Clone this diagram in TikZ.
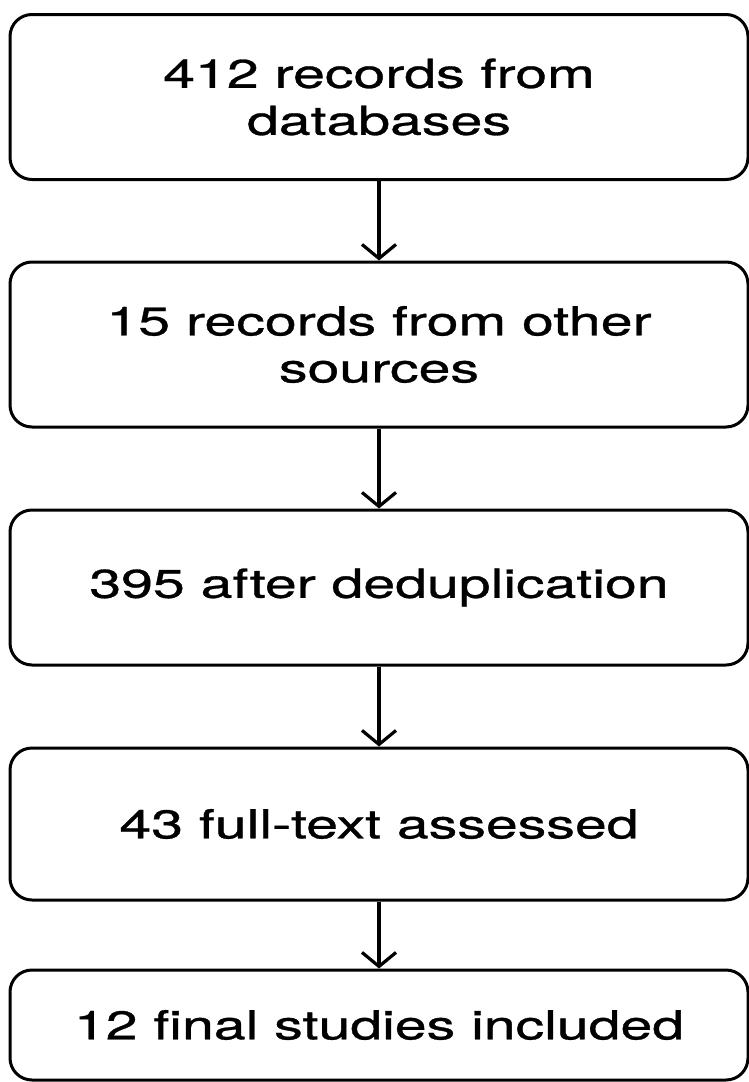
\documentclass[tikz,border=0pt]{standalone}
\usepackage{fontspec}
\setmainfont{TeX Gyre Heros}
\newfontfamily\boxfont[FakeBold=0.7]{TeX Gyre Heros}
\usetikzlibrary{arrows.meta}
\newcommand{\wide}[1]{\scalebox{1.43}[1]{#1}}

\begin{document}
\begin{tikzpicture}[x=1pt,y=-1pt,
  box/.style={draw, line width=3pt, rounded corners=22pt, minimum width=738pt, align=center, font=\boxfont\fontsize{40}{47}\selectfont, inner sep=0pt},
  flow/.style={line width=3.2pt, -{Straight Barb[length=14pt,width=34pt]}}]
\useasboundingbox (0,0) rectangle (749,1082);

\node[box, minimum height=165pt] (v1) at (379,97) {\wide{412 records from}\\\wide{databases}};
\node[box, minimum height=165pt] (v2) at (379,344.5) {\wide{15 records from other}\\\wide{sources}};
\node[box, minimum height=155pt] (v3) at (379,587.5) {\wide{395 after deduplication}};
\node[box, minimum height=152pt] (v4) at (379,824) {\wide{43 full-text assessed}};
\node[box, minimum height=110pt] (v5) at (379,1025) {\wide{12 final studies included}};
\draw [flow] (v1) -- (v2);
\draw [flow] (v2) -- (v3);
\draw [flow] (v3) -- (v4);
\draw [flow] (v4) -- (v5);
\end{tikzpicture}
\end{document}
